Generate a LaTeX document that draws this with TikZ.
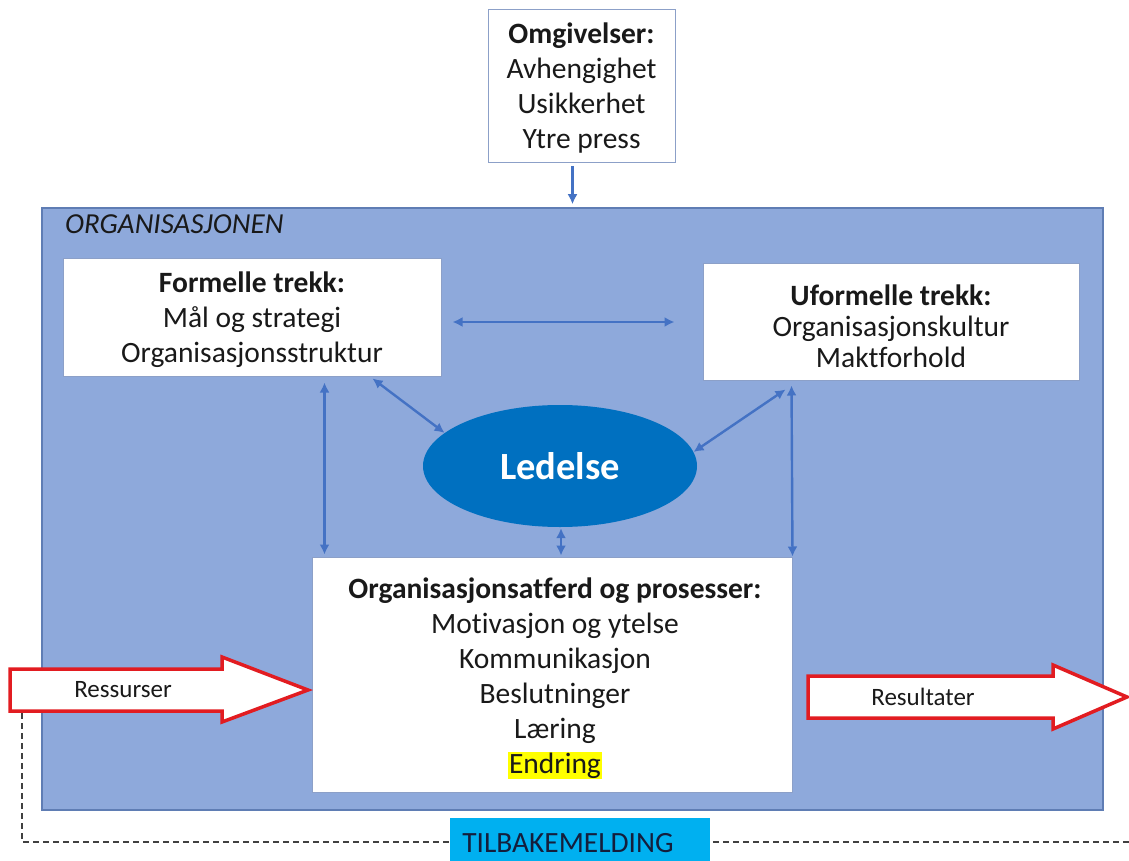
\documentclass[tikz,border=0pt]{standalone}
\usepackage{fontspec}
\setmainfont{Carlito}[Ligatures={NoCommon}]
\usetikzlibrary{arrows.meta,shapes.geometric,calc}

\definecolor{orgfill}{RGB}{142,169,219}
\definecolor{orgline}{RGB}{95,125,180}
\definecolor{boxline}{RGB}{140,160,200}
\definecolor{connblue}{RGB}{68,114,196}
\definecolor{leadblue}{RGB}{0,112,192}
\definecolor{flowred}{RGB}{226,28,33}
\definecolor{feedcyan}{RGB}{0,176,240}
\definecolor{feedtext}{RGB}{20,30,60}
\definecolor{txt}{RGB}{25,25,25}
\definecolor{hl}{RGB}{255,255,0}

\tikzset{
  whitebox/.style={draw=boxline, line width=1pt, fill=white, inner sep=0pt},
  boxtext/.style={align=center, text=txt, inner sep=0pt,
    font=\fontsize{29.5}{35}\selectfont},
  conn/.style={draw=connblue, line width=2.4pt,
    -{Latex[length=10pt,width=10pt]}},
  biconn/.style={draw=connblue, line width=2.4pt,
    {Latex[length=10pt,width=10pt]}-{Latex[length=10pt,width=10pt]}},
  flowarrow/.style={draw=flowred, line width=3.5pt, fill=white, line join=miter},
  flowlabel/.style={text=txt, font=\fontsize{25}{28}\selectfont},
  feedline/.style={draw=black!75, line width=1.2pt, dash pattern=on 6pt off 4pt}
}

\begin{document}
\begin{tikzpicture}[x=1pt,y=-1pt]
\useasboundingbox (0,0) rectangle (1129,861);
\fill[white] (0,0) rectangle (1129,861);

% the organisation
\node[draw=orgline, line width=1.5pt, fill=orgfill, minimum width=1061pt,
      minimum height=602pt, inner sep=0pt] (org) at (572.5,509) {};
\node[anchor=west, inner sep=0pt, text=txt, font=\fontsize{29}{32}\selectfont\itshape]
      (orglabel) at (65,224) {ORGANISASJONEN};

% environment
\node[whitebox, minimum width=187pt, minimum height=153pt] (omg) at (581.5,86.5) {};
\node[boxtext] (omgtext) at ([yshift=-2pt]omg.center)
  {\textbf{Omgivelser:}\\Avhengighet\\Usikkerhet\\Ytre press};

% formal and informal features
\node[whitebox, minimum width=378pt, minimum height=118pt] (for) at (252,317) {};
\node[boxtext] (fortext) at ([yshift=-3pt]for.center)
  {\textbf{Formelle trekk:}\\Mål og strategi\\Organisasjonsstruktur};
\node[whitebox, minimum width=376pt, minimum height=117pt] (ufo) at (891,321.5) {};
\node[boxtext, font=\fontsize{29.5}{31}\selectfont] (ufotext) at ([yshift=-5pt]ufo.center)
  {\textbf{Uformelle trekk:}\\Organisasjonskultur\\Maktforhold};

% leadership
\node[ellipse, fill=leadblue, minimum width=274pt, minimum height=122pt,
      inner sep=0pt, text=white, font=\fontsize{38.5}{42}\selectfont\bfseries]
      (led) at (560,466) {Ledelse};

% behaviour and processes
\node[whitebox, minimum width=480pt, minimum height=235pt] (proc) at (552,674.5) {};
\node[boxtext] (proctext) at ([xshift=3pt,yshift=-4pt]proc.center)
  {\textbf{Organisasjonsatferd og prosesser:}\\Motivasjon og ytelse\\Kommunikasjon\\
   Beslutninger\\Læring\\{\setlength{\fboxsep}{1pt}\colorbox{hl}{Endring}}};

% connectors
\draw[conn] ([yshift=-3pt]omg.south -| org.north) -- ([yshift=3pt]org.north);
\draw[biconn] ([xshift=11pt,yshift=-5pt]for.east) -- ([xshift=-28pt,yshift=-5pt]ufo.west |- for.east);
\draw[biconn] ([xshift=-69pt,yshift=-2pt]for.south east) -- (led.164);
\draw[biconn] ([xshift=83pt,yshift=-9pt]ufo.south west) -- (led.6);
\draw[biconn] ([xshift=262pt,yshift=-6pt]for.south west) -- ([xshift=13pt,yshift=2pt]proc.north west);
\draw[biconn] ([xshift=89pt,yshift=-5pt]ufo.south west) -- ([yshift=0pt]proc.north east);
\draw[biconn] ([yshift=-1pt]led.south -| 561,0) -- ([yshift=1pt]proc.north -| 561,0);

% resources in, results out
\draw[flowarrow] (10,669) -- (222,669) -- (222,657) -- (308,690) -- (222,722)
  -- (222,711) -- (10,711) -- cycle;
\node[flowlabel] (res) at (123,690) {Ressurser};
\draw[flowarrow] (808,676) -- (1053,676) -- (1053,665) -- (1127,697) -- (1053,729)
  -- (1053,718) -- (808,718) -- cycle;
\node[flowlabel] (out) at (923,697) {Resultater};

% feedback loop
\coordinate (fbstart) at (22,713);
\coordinate (fbcorner) at (22,842);
\coordinate (fbend) at (1129,842);
\draw[feedline] (fbstart) -- (fbcorner) -- (fbend);
\begin{scope}
  \clip (0,0) rectangle (1129,861);
  \node[fill=feedcyan, minimum width=260pt, minimum height=52pt, inner sep=0pt]
        (fb) at (580,844) {};
  \node[text=feedtext, inner sep=0pt, font=\fontsize{29.4}{32}\selectfont]
        (fbtext) at (568,843) {TILBAKEMELDING};
\end{scope}
\end{tikzpicture}
\end{document}
